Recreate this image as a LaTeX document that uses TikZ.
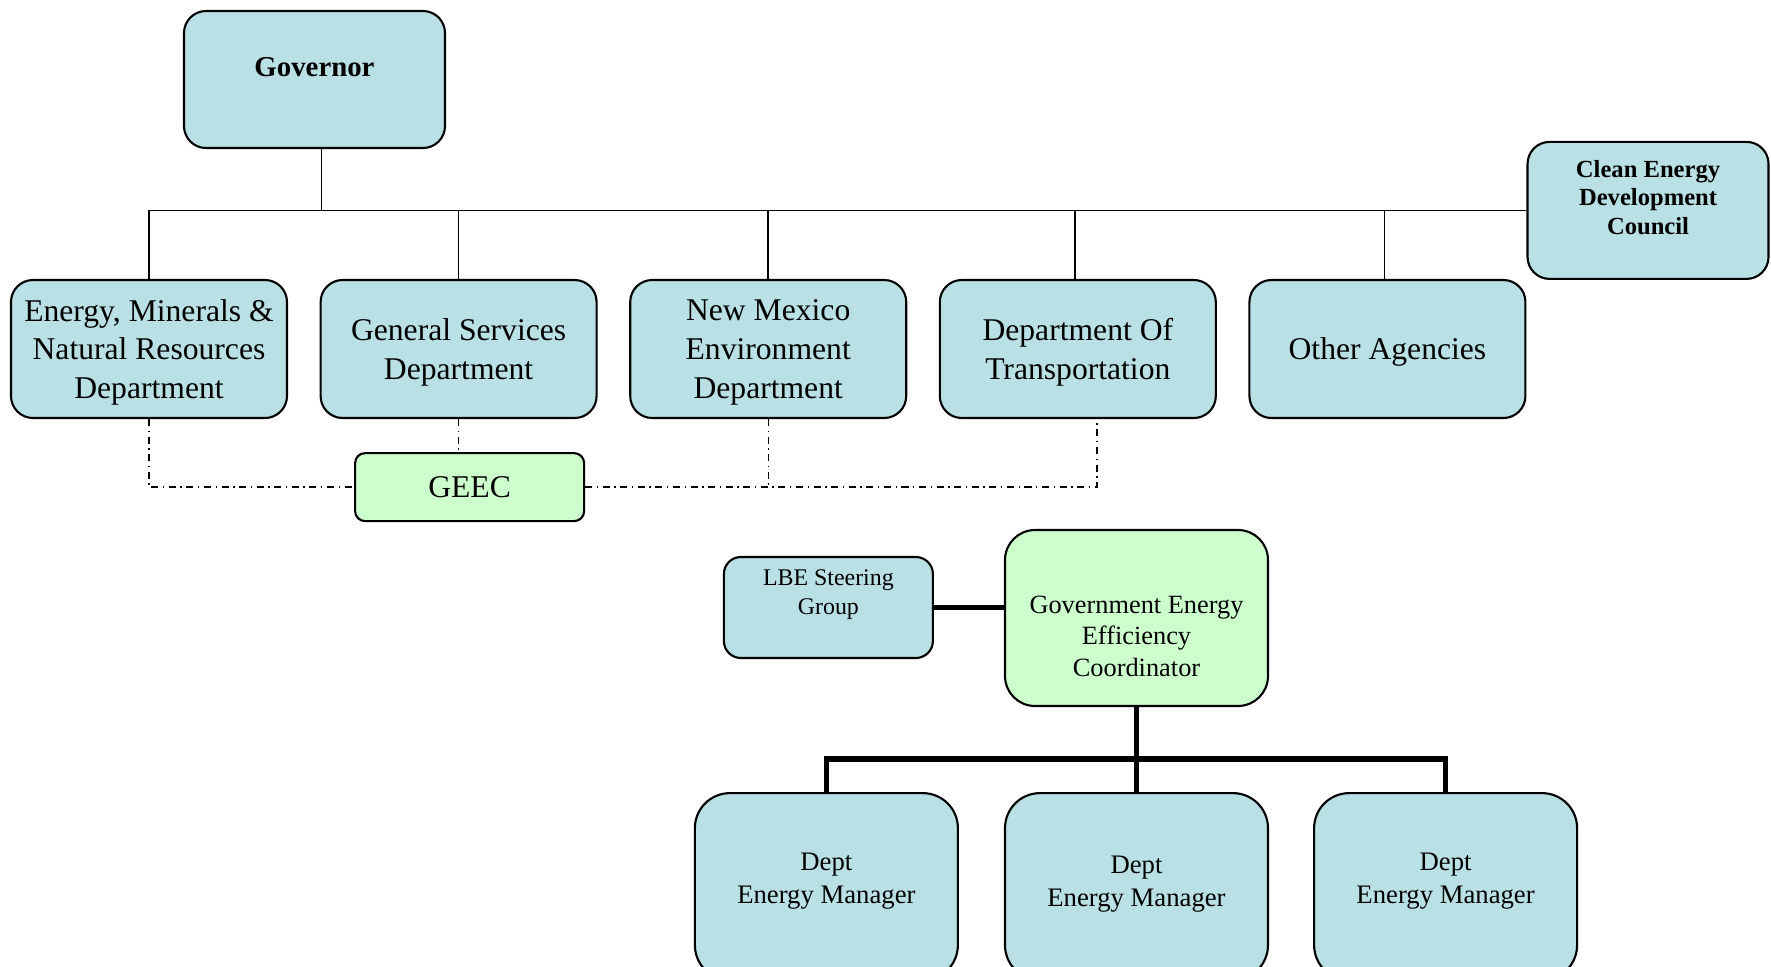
\documentclass[tikz,border=0pt]{standalone}
\usepackage{fontspec}
\setmainfont{Liberation Serif}
\usetikzlibrary{positioning}
\definecolor{paleblue}{HTML}{B9E0E4}
\definecolor{palegreen}{HTML}{CCFFCC}

\begin{document}
\begin{tikzpicture}[align=center,
	conn/.style={line width=0.5pt},
	boldconn/.style={line width=1.6pt},
	dotconn/.style={line width=0.4pt,dash pattern=on 2pt off 1.3pt on 0.4pt off 1.3pt},
	box/.style={rectangle,draw,fill=paleblue,line width=0.6pt,inner sep=0pt,rounded corners=0.22cm},
	agency/.style={box,minimum width=2.76cm,minimum height=1.38cm,text depth=-1pt,font=\fontsize{9}{11}\selectfont},
	manager/.style={box,minimum width=2.63cm,minimum height=1.87cm,rounded corners=0.35cm,text depth=4.8pt,font=\fontsize{7.6}{9.2}\selectfont}]
\useasboundingbox (0,0) rectangle (17.71,-9.66);
\clip (0,0) rectangle (17.71,-9.66);
\node[box,minimum width=2.61cm,minimum height=1.37cm,font=\bfseries\fontsize{8.2}{10}\selectfont,text depth=0.26cm](gov) at (3.145,-0.795){Governor};
\node[agency](emnrd) at (1.49,-3.49){Energy, Minerals \&\\Natural Resources\\Department};
\node[agency](gsd)[right=0.315cm of emnrd]{General Services\\Department};
\node[agency](nmed)[right=0.315cm of gsd]{New Mexico\\Environment\\Department};
\node[agency](trans)[right=0.315cm of nmed]{Department Of\\Transportation};
\node[agency](oth)[right=0.315cm of trans]{Other Agencies};
\node[box,minimum width=2.41cm,minimum height=1.37cm,font=\bfseries\fontsize{7}{8}\selectfont,text depth=7.4pt](cedc)[above right=-0.01cm and 0cm of oth]{Clean Energy\\Development\\Council};
\node[box,fill=palegreen,minimum width=2.29cm,minimum height=0.68cm,rounded corners=0.1cm,font=\fontsize{9}{11}\selectfont](geec)[below=0.33cm of gsd,xshift=0.11cm]{GEEC};
\node[box,fill=palegreen,minimum width=2.63cm,minimum height=1.76cm,rounded corners=0.3cm,font=\fontsize{7.5}{9}\selectfont,text height=33.4pt](gc) at (11.365,-6.18){Government Energy\\Efficiency\\Coordinator};
\node[box,minimum width=2.09cm,minimum height=1.01cm,rounded corners=0.17cm,font=\fontsize{6.8}{8.2}\selectfont,text depth=9pt](lbe)[left=0.7cm of gc,yshift=0.105cm]{LBE Steering\\Group};
\node[manager,text depth=3pt](dm2)[below=0.85cm of gc]{Dept\\Energy Manager};
\node[manager](dm1)[left=0.45cm of dm2]{Dept\\Energy Manager};
\node[manager](dm3)[right=0.44cm of dm2]{Dept\\Energy Manager};
\draw[conn](emnrd.north) |- (cedc.west);
\draw[conn]([xshift=0.07cm]gov.south) -- ([xshift=0.07cm]gov.south |- cedc.west);
\draw[conn](gsd.north) -- (gsd.north |- cedc.west);
\draw[conn](nmed.north) -- (nmed.north |- cedc.west);
\draw[conn]([xshift=-0.03cm]trans.north) -- ([xshift=-0.03cm]trans.north |- cedc.west);
\draw[conn]([xshift=-0.03cm]oth.north) -- ([xshift=-0.03cm]oth.north |- cedc.west);
\draw[dotconn](emnrd.south) |- (geec.west);
\draw[dotconn](gsd.south) -- (gsd.south |- geec.north);
\draw[dotconn](nmed.south) -- (nmed.south |- geec.east);
\draw[dotconn](geec.east) -| ([xshift=0.19cm]trans.south);
\draw[boldconn](lbe.east) -- (lbe.east -| gc.west);
\draw[boldconn](gc.south) -- (dm2.north);
\draw[boldconn](dm1.north) |- ([yshift=0.33cm]dm2.north) -| (dm3.north);
\end{tikzpicture}
\end{document}
